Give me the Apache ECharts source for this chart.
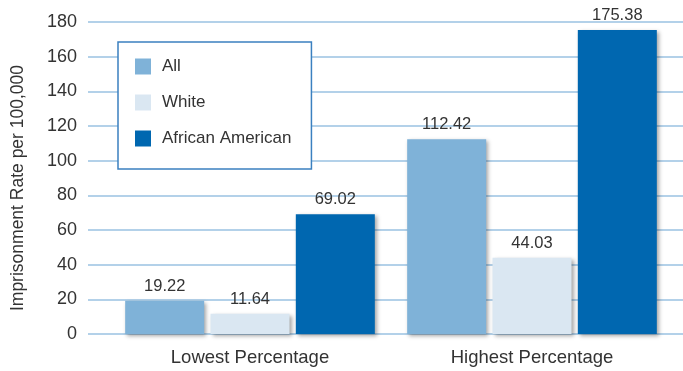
<!DOCTYPE html>
<html>
<head>
<meta charset="utf-8">
<script src="https://cdn.jsdelivr.net/npm/echarts@6/dist/echarts.min.js"></script>
<style>
html, body { margin: 0; padding: 0; background: #fff; }
#chart { width: 683px; height: 371px; }
</style>
</head>
<body>
<div id="chart"></div>
<script>
var categories = ["Lowest Percentage", "Highest Percentage"];
var seriesNames = ["All", "White", "African American"];
var allValues = [19.22, 112.42];
var whiteValues = [11.64, 44.03];
var africanAmericanValues = [69.02, 175.38];
var yTicks = [0, 20, 40, 60, 80, 100, 120, 140, 160, 180];

function barSeries(name, data, color) {
    return {
        name: name,
        type: "bar",
        xAxisIndex: 1,
        yAxisIndex: 1,
        data: data,
        barWidth: 79,
        barGap: "8%",
        itemStyle: {
            color: color,
            shadowColor: "rgba(0,0,0,0.35)",
            shadowBlur: 4,
            shadowOffsetX: 2,
            shadowOffsetY: 2
        },
        label: {
            show: true,
            position: "top",
            distance: 6,
            color: "#333",
            fontSize: 16.5,
            fontFamily: "Liberation Sans",
            formatter: function (p) { return p.value.toFixed(2); }
        }
    };
}

var myChart = echarts.init(document.getElementById("chart"));
var option = {
    animation: false,
    backgroundColor: "#fff",
    grid: [
        { left: 88, right: 0, top: 22, bottom: 37 },
        { left: 109, right: 10, top: 22, bottom: 37 }
    ],
    legend: {
        orient: "vertical",
        left: 118,
        top: 42,
        z: 10,
        data: seriesNames,
        backgroundColor: "#fff",
        borderColor: "#3b80c0",
        borderWidth: 1.5,
        padding: [16, 20, 22, 17],
        itemGap: 19,
        itemWidth: 16,
        itemHeight: 16,
        icon: "rect",
        itemStyle: { shadowBlur: 0, shadowOffsetX: 0, shadowOffsetY: 0 },
        textStyle: {
            color: "#333",
            fontSize: 17,
            fontFamily: "Liberation Sans",
            padding: [0, 0, 0, 6]
        }
    },
    xAxis: [
        { type: "value", gridIndex: 0, show: false },
        {
            type: "category",
            gridIndex: 1,
            data: categories,
            axisLine: { show: false },
            axisTick: { show: false },
            axisLabel: {
                color: "#333",
                fontSize: 18.5,
                fontFamily: "Liberation Sans",
                margin: 14
            }
        }
    ],
    yAxis: [
        {
            type: "value",
            gridIndex: 0,
            min: yTicks[0],
            max: yTicks[yTicks.length - 1],
            interval: 20,
            name: "Imprisonment Rate per 100,000",
            nameLocation: "middle",
            nameGap: 61,
            nameTextStyle: {
                color: "#333",
                fontSize: 17.5,
                fontFamily: "Liberation Sans",
                padding: [0, 0, 0, -20]
            },
            axisLine: { show: false },
            axisTick: { show: false },
            axisLabel: {
                color: "#333",
                fontSize: 18,
                fontFamily: "Liberation Sans",
                margin: 11
            },
            splitLine: {
                show: true,
                lineStyle: { color: "#9ac2e2", width: 1.5 }
            }
        },
        {
            type: "value",
            gridIndex: 1,
            min: yTicks[0],
            max: yTicks[yTicks.length - 1],
            show: false,
            splitLine: { show: false }
        }
    ],
    series: [
        barSeries(seriesNames[0], allValues, "#7fb2d8"),
        barSeries(seriesNames[1], whiteValues, "#dae7f2"),
        barSeries(seriesNames[2], africanAmericanValues, "#0067b0")
    ]
};
myChart.setOption(option);
</script>
</body>
</html>
